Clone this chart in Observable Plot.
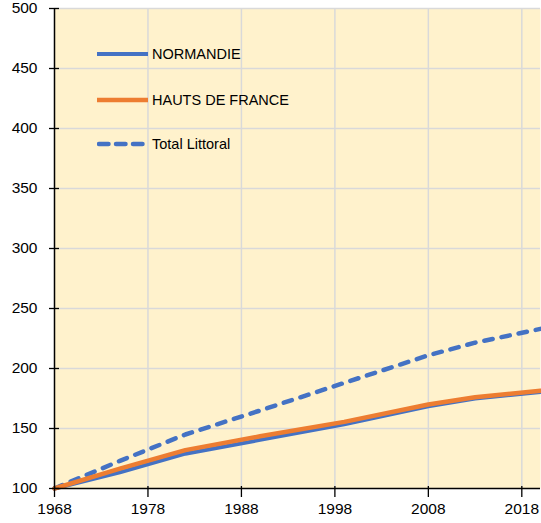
<!DOCTYPE html>
<html>
<head>
<meta charset="utf-8">
<script src="https://cdn.jsdelivr.net/npm/d3@7"></script>
<script src="https://cdn.jsdelivr.net/npm/@observablehq/plot@0.6"></script>
<style>
  html, body { margin: 0; padding: 0; background: #fff; }
  #wrap { position: relative; width: 541px; height: 523px; font-family: "Liberation Sans", Arial, sans-serif; }
  .leg { position: absolute; left: 97px; display: flex; align-items: center; font-size: 14.5px; color: #000; }
  .leg svg { display: block; margin-right: 3px; }
</style>
</head>
<body>
<div id="wrap"></div>
<script>
const years = [1968, 1975, 1982, 1990, 1999, 2008, 2013, 2020];
const normandie = [100, 113.5, 129, 140.5, 153.5, 168.5, 175, 180.5];
const hautsDeFrance = [100, 116.5, 132, 143.5, 155.5, 170, 176, 181.5];
const totalLittoral = [100, 123, 145, 165, 188, 211, 221.5, 233];
const xTicks = [1968, 1978, 1988, 1998, 2008, 2018];
const yTicks = [100, 150, 200, 250, 300, 350, 400, 450, 500];
const seriesNames = ["NORMANDIE", "HAUTS DE FRANCE", "Total Littoral"];

const BLUE = "#4472C4", ORANGE = "#ED7D31";
const toRows = vals => years.map((y, i) => ({year: y, value: vals[i]}));
const FS = 15.5;

const chart = Plot.plot({
  width: 541, height: 523,
  marginLeft: 54, marginRight: 1, marginTop: 8, marginBottom: 35,
  style: {fontFamily: "'Liberation Sans', Arial, sans-serif", fontSize: "15.5px", color: "#000", background: "#fff"},
  x: {domain: [1968, 2020]},
  y: {domain: [100, 500]},
  marks: [
    Plot.frame({fill: "#FFF2CC", stroke: null}),
    Plot.gridX(xTicks.slice(1), {stroke: "#D9D9D9", strokeOpacity: 1, strokeWidth: 1.5}),
    Plot.gridY(yTicks.slice(1), {stroke: "#D9D9D9", strokeOpacity: 1, strokeWidth: 1.5}),
    Plot.line(toRows(totalLittoral), {x: "year", y: "value", stroke: BLUE, strokeWidth: 4.5, strokeDasharray: "8.5,9", strokeLinecap: "round"}),
    Plot.line(toRows(normandie), {x: "year", y: "value", stroke: BLUE, strokeWidth: 4}),
    Plot.line(toRows(hautsDeFrance), {x: "year", y: "value", stroke: ORANGE, strokeWidth: 4.5}),
    Plot.ruleX([1968], {stroke: "#000", strokeWidth: 1.5}),
    Plot.ruleY([100], {stroke: "#000", strokeWidth: 1.5}),
    Plot.axisX(xTicks, {tickSize: 9, tickPadding: 5, fontSize: FS, tickFormat: d => String(d), label: null, stroke: "#000", strokeWidth: 1.3}),
    Plot.axisX(xTicks, {tickSize: 2, dy: -2, tickFormat: () => "", label: null, stroke: "#000", strokeWidth: 1.3}),
    Plot.axisY(yTicks, {tickSize: 5, tickPadding: 12, fontSize: FS, label: null, stroke: "#000", strokeWidth: 1.3}),
    Plot.axisY(yTicks, {tickSize: 5, dx: 5, tickFormat: () => "", label: null, stroke: "#000", strokeWidth: 1.3})
  ]
});
const wrap = document.getElementById("wrap");
wrap.appendChild(chart);

// Legend (inside plot area, as in the reference)
const legendDefs = [
  {name: seriesNames[0], color: BLUE, dash: null, top: 54, w: 4},
  {name: seriesNames[1], color: ORANGE, dash: null, top: 100, w: 4.5},
  {name: seriesNames[2], color: BLUE, dash: "9.5,7.5", top: 144, w: 4.5}
];
for (const d of legendDefs) {
  const div = document.createElement("div");
  div.className = "leg";
  div.style.top = (d.top - 10) + "px";
  div.style.height = "20px";
  const ns = "http://www.w3.org/2000/svg";
  const svg = document.createElementNS(ns, "svg");
  svg.setAttribute("width", 52); svg.setAttribute("height", 20);
  const ln = document.createElementNS(ns, "line");
  ln.setAttribute("x1", d.dash ? 2 : 0); ln.setAttribute("x2", d.dash ? 46 : 51);
  ln.setAttribute("y1", 10); ln.setAttribute("y2", 10);
  ln.setAttribute("stroke", d.color); ln.setAttribute("stroke-width", d.w);
  if (d.dash) { ln.setAttribute("stroke-dasharray", d.dash); ln.setAttribute("stroke-linecap", "round"); }
  svg.appendChild(ln);
  div.appendChild(svg);
  const span = document.createElement("span");
  span.textContent = d.name;
  div.appendChild(span);
  wrap.appendChild(div);
}
</script>
</body>
</html>
